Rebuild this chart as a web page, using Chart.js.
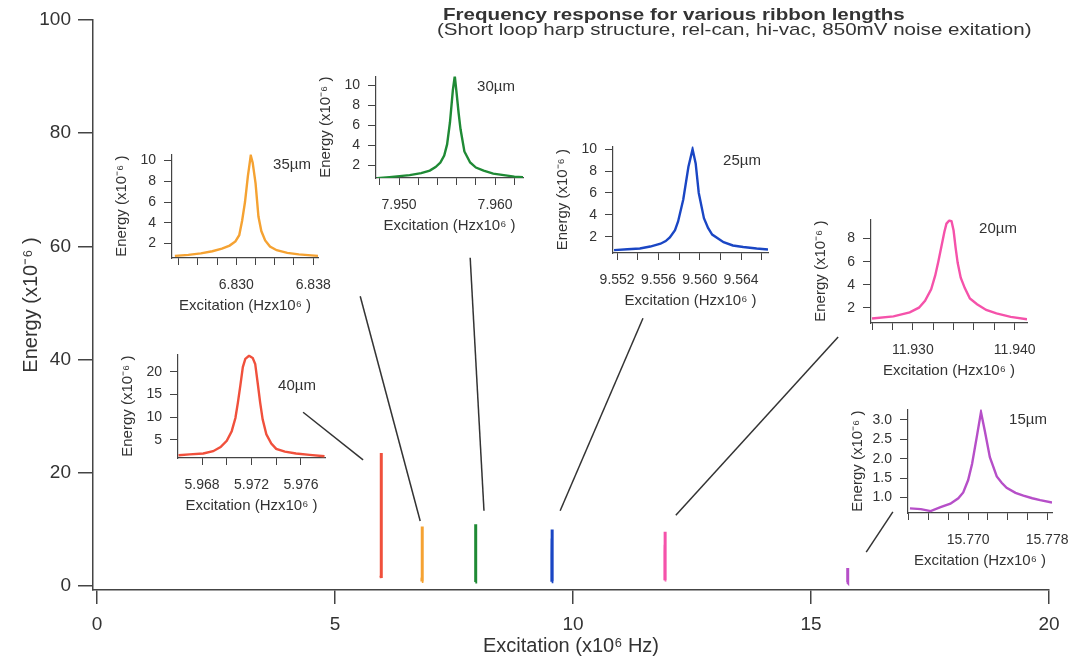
<!DOCTYPE html>
<html>
<head>
<meta charset="utf-8">
<script src="https://cdn.jsdelivr.net/npm/chart.js@4"></script>
<style>
  body { margin: 0; background: #fff; }
  #wrap { position: relative; width: 1073px; height: 663px; font-family: "Liberation Sans", Arial, Helvetica, sans-serif; color: #333; }
  #wrap canvas { position: absolute; }
  .title { position: absolute; white-space: nowrap; font-size: 17px; line-height: 20px; transform: scaleX(1.21); transform-origin: left top; }
  .len { position: absolute; white-space: nowrap; font-size: 15px; transform: translate(-50%, -50%); }
</style>
</head>
<body>
<div id="wrap">
  <canvas id="main" width="1073" height="663" style="left:0;top:0"></canvas>
  <div class="title" style="left:443px;top:5px;font-weight:bold">Frequency response for various ribbon lengths</div>
  <div class="title" style="left:437px;top:20px">(Short loop harp structure, rel-can, hi-vac, 850mV noise exitation)</div>
</div>
<script>
// ribbon lengths and their colours
const lengths = ['40µm', '35µm', '30µm', '25µm', '20µm', '15µm'];
const colors = ['#f0503c', '#f5a232', '#1f8a35', '#1a46c4', '#f552aa', '#b64fc8'];

// measured spectra (x10^6 Hz, energy x10^-6)
const freq40 = [5.9661, 5.9670, 5.9681, 5.9689, 5.9695, 5.9700, 5.9704, 5.9707, 5.9709, 5.9711, 5.9713, 5.9715, 5.9718, 5.9721, 5.9723, 5.9725, 5.9727, 5.9729, 5.9732, 5.9736, 5.9740, 5.9747, 5.9756, 5.9767, 5.9779];
const energy40 = [1.6, 1.8, 2.0, 2.5, 3.4, 4.8, 6.9, 9.8, 13.2, 17.0, 21.0, 22.8, 23.5, 23.0, 21.7, 17.5, 13.2, 9.5, 6.2, 4.2, 3.0, 2.4, 2.0, 1.7, 1.4];

const freq35 = [6.8236, 6.8250, 6.8263, 6.8275, 6.8285, 6.8293, 6.8299, 6.8303, 6.8306, 6.8309, 6.8312, 6.8315, 6.8317, 6.8320, 6.8323, 6.8326, 6.8330, 6.8335, 6.8342, 6.8353, 6.8365, 6.8378, 6.8385];
const energy35 = [0.8, 0.9, 1.05, 1.25, 1.5, 1.8, 2.2, 2.8, 4.2, 6.0, 8.5, 10.5, 9.8, 7.8, 4.6, 3.2, 2.3, 1.7, 1.35, 1.1, 0.95, 0.85, 0.8];

const freq30 = [7.9477, 7.9490, 7.9511, 7.9523, 7.9532, 7.9538, 7.9543, 7.9547, 7.9550, 7.9553, 7.9556, 7.9558, 7.9560, 7.9562, 7.9564, 7.9568, 7.9574, 7.9580, 7.9588, 7.9598, 7.9609, 7.9620, 7.9629];
const energy30 = [0.73, 0.85, 1.05, 1.25, 1.5, 1.85, 2.3, 3.0, 4.1, 6.3, 9.5, 10.9, 9.1, 7.2, 5.6, 3.4, 2.3, 1.8, 1.5, 1.2, 1.05, 0.9, 0.83];

const freq25 = [9.5517, 9.5530, 9.5542, 9.5552, 9.5562, 9.5567, 9.5571, 9.5576, 9.5579, 9.5584, 9.5589, 9.5593, 9.5596, 9.5599, 9.5604, 9.5608, 9.5612, 9.5623, 9.5632, 9.5642, 9.5655, 9.5666];
const energy25 = [0.77, 0.85, 0.92, 1.1, 1.36, 1.6, 1.94, 2.6, 3.4, 5.4, 8.4, 10.0, 8.7, 6.0, 3.7, 2.8, 2.2, 1.5, 1.2, 1.06, 0.92, 0.83];

const freq20 = [11.9260, 11.9281, 11.9297, 11.9306, 11.9312, 11.9318, 11.9322, 11.9325, 11.9328, 11.9331, 11.9333, 11.9336, 11.9338, 11.9340, 11.9342, 11.9344, 11.9347, 11.9351, 11.9356, 11.9363, 11.9372, 11.9382, 11.9396, 11.9412];
const energy20 = [1.06, 1.25, 1.6, 2.0, 2.6, 3.6, 4.8, 6.0, 7.3, 8.6, 9.3, 9.6, 9.5, 8.7, 7.2, 5.9, 4.6, 3.7, 2.8, 2.3, 1.8, 1.5, 1.2, 1.0];

const freq15 = [15.7641, 15.7652, 15.7662, 15.7672, 15.7682, 15.7690, 15.7695, 15.7700, 15.7704, 15.7709, 15.7713, 15.7717, 15.7722, 15.7729, 15.7734, 15.7739, 15.7748, 15.7756, 15.7765, 15.7773, 15.7785];
const energy15 = [0.72, 0.70, 0.65, 0.75, 0.84, 0.98, 1.13, 1.45, 1.87, 2.6, 3.2, 2.7, 2.04, 1.54, 1.38, 1.25, 1.12, 1.05, 0.98, 0.93, 0.87];

const freqs = [freq40, freq35, freq30, freq25, freq20, freq15];
const energies = [energy40, energy35, energy30, energy25, energy20, energy15];

// main axis ticks
const mainXTicks = [0, 5, 10, 15, 20];
const mainYTicks = [0, 20, 40, 60, 80, 100];

// inset tick labels
const insetYTicks = [[5, 10, 15, 20], [2, 4, 6, 8, 10], [2, 4, 6, 8, 10], [2, 4, 6, 8, 10], [2, 4, 6, 8], [1.0, 1.5, 2.0, 2.5, 3.0]];
const insetXLabels = [[5.968, 5.972, 5.976], [6.830, 6.838], [7.950, 7.960], [9.552, 9.556, 9.560, 9.564], [11.930, 11.940], [15.770, 15.778]];

// leader lines from insets to peaks (main chart coordinates)
const leaderFrom = [[4.33, 30.7], [5.53, 51.2], [7.84, 58.0], [11.47, 47.3], [15.57, 44.0], [16.72, 13.1]];
const leaderTo = [[5.59, 22.3], [6.79, 11.5], [8.13, 13.3], [9.73, 13.3], [12.16, 12.5], [16.16, 6.0]];

// inset placement: plot box [left, top, right, bottom] in page px, axis ranges, label centre
const insetLayout = [
  { box: [178, 350, 325, 458], x: [5.96606, 5.97794], y: [1.0, 23.8], label: [297, 384] },
  { box: [172, 150, 318, 258], x: [6.8233, 6.8385], y: [0.6, 10.6], label: [292, 163] },
  { box: [376, 72, 523, 178], x: [7.9476, 7.9629], y: [0.76, 10.86], label: [496, 85] },
  { box: [613, 142, 768, 253], x: [9.5516, 9.5666], y: [0.51, 10.26], label: [742, 159] },
  { box: [871, 215, 1027, 323], x: [11.9259, 11.9412], y: [0.67, 9.67], label: [998, 227] },
  { box: [908, 405, 1052, 513], x: [15.7639, 15.7785], y: [0.6, 3.27], label: [1028, 418] }
];

Chart.defaults.font.family = '"Liberation Sans", Arial, Helvetica, sans-serif';
Chart.defaults.color = '#333';

const AXIS = '#444';
const ENERGY_TITLE = 'Energy (x10\u207B\u2076 )';

function toPoints(xs, ys) {
  return xs.map((x, i) => ({ x: x, y: ys[i] }));
}

function stepTicks(min, max, step) {
  const out = [];
  for (let k = Math.ceil(min / step - 1e-9); k * step <= max + 1e-9; k++) {
    out.push(+(k * step).toFixed(6));
  }
  return out;
}

// main chart
const mainSets = lengths.map((len, i) => ({
  label: len,
  data: toPoints(freqs[i], energies[i]),
  showLine: true,
  borderColor: colors[i],
  borderWidth: 3,
  pointRadius: 0,
  fill: false
}));
const leaderSets = leaderFrom.map((p, i) => ({
  label: 'leader ' + lengths[i],
  data: [{ x: p[0], y: p[1] }, { x: leaderTo[i][0], y: leaderTo[i][1] }],
  showLine: true,
  borderColor: '#333',
  borderWidth: 1.5,
  pointRadius: 0,
  fill: false
}));

new Chart(document.getElementById('main'), {
  type: 'scatter',
  data: { datasets: mainSets.concat(leaderSets) },
  options: {
    responsive: false,
    animation: false,
    layout: { padding: { top: 20, right: 24, left: 0, bottom: 0 }, autoPadding: false },
    plugins: { legend: { display: false }, tooltip: { enabled: false } },
    scales: {
      x: {
        type: 'linear',
        min: -0.084,
        max: 20,
        afterBuildTicks: s => { s.ticks = mainXTicks.map(v => ({ value: v })); },
        afterFit: s => { s.height = 73; },
        grid: { drawOnChartArea: false, tickLength: 14, color: AXIS, lineWidth: 1.5 },
        border: { color: AXIS, width: 1.5 },
        ticks: { font: { size: 19 }, padding: 9, maxRotation: 0 },
        title: { display: true, text: 'Excitation (x10\u2076 Hz)', font: { size: 20 }, padding: { top: 0, bottom: 5 } }
      },
      y: {
        type: 'linear',
        min: -0.7,
        max: 100,
        afterBuildTicks: s => { s.ticks = mainYTicks.map(v => ({ value: v })); },
        afterFit: s => { s.width = 93; },
        grid: { drawOnChartArea: false, tickLength: 15, color: AXIS, lineWidth: 1.5 },
        border: { color: AXIS, width: 1.5 },
        ticks: { font: { size: 19 }, padding: 7 },
        title: { display: true, text: ENERGY_TITLE, font: { size: 20 }, padding: { top: 19, bottom: 0 } }
      }
    }
  }
});

// insets
const PAD_L = 59, PAD_T = 12, PAD_R = 30, PAD_B = 59;
const wrap = document.getElementById('wrap');

insetLayout.forEach((ins, i) => {
  const [L, T, R, B] = ins.box;
  const cv = document.createElement('canvas');
  cv.width = R - L + PAD_L + PAD_R;
  cv.height = B - T + PAD_T + PAD_B;
  cv.style.left = (L - PAD_L) + 'px';
  cv.style.top = (T - PAD_T) + 'px';
  wrap.appendChild(cv);

  const lab = document.createElement('div');
  lab.className = 'len';
  lab.style.left = ins.label[0] + 'px';
  lab.style.top = ins.label[1] + 'px';
  lab.textContent = lengths[i];
  wrap.appendChild(lab);

  const xLabels = insetXLabels[i];
  const yTicks = insetYTicks[i];
  const oneDecimal = yTicks.some(v => v % 1 !== 0);

  new Chart(cv, {
    type: 'scatter',
    data: {
      datasets: [{
        label: lengths[i],
        data: toPoints(freqs[i], energies[i]),
        showLine: true,
        borderColor: colors[i],
        borderWidth: 2.4,
        pointRadius: 0,
        fill: false
      }]
    },
    options: {
      responsive: false,
      animation: false,
      layout: { padding: { top: PAD_T, right: PAD_R, left: 0, bottom: 0 }, autoPadding: false },
      plugins: { legend: { display: false }, tooltip: { enabled: false } },
      scales: {
        x: {
          type: 'linear',
          min: ins.x[0],
          max: ins.x[1],
          afterBuildTicks: s => { s.ticks = stepTicks(ins.x[0], ins.x[1], 0.002).map(v => ({ value: v })); },
          afterFit: s => { s.height = PAD_B; },
          grid: { drawOnChartArea: false, tickLength: 7, color: AXIS, lineWidth: 1 },
          border: { color: AXIS, width: 1.2 },
          ticks: {
            font: { size: 14 },
            padding: 12,
            maxRotation: 0,
            autoSkip: false,
            callback: v => xLabels.some(l => Math.abs(l - v) < 1e-7) ? v.toFixed(3) : ''
          },
          title: { display: true, text: 'Excitation (Hzx10\u2076 )', font: { size: 15 }, padding: { top: 0, bottom: 2 } }
        },
        y: {
          type: 'linear',
          min: ins.y[0],
          max: ins.y[1],
          afterBuildTicks: s => { s.ticks = yTicks.map(v => ({ value: v })); },
          afterFit: s => { s.width = PAD_L; },
          grid: { drawOnChartArea: false, tickLength: 8, color: AXIS, lineWidth: 1 },
          border: { color: AXIS, width: 1.2 },
          ticks: {
            font: { size: 14 },
            padding: 8,
            autoSkip: false,
            callback: v => oneDecimal ? v.toFixed(1) : String(v)
          },
          title: { display: true, text: ENERGY_TITLE, font: { size: 15 }, padding: { top: 0, bottom: 0 } }
        }
      }
    }
  }
  );
});
</script>
</body>
</html>
